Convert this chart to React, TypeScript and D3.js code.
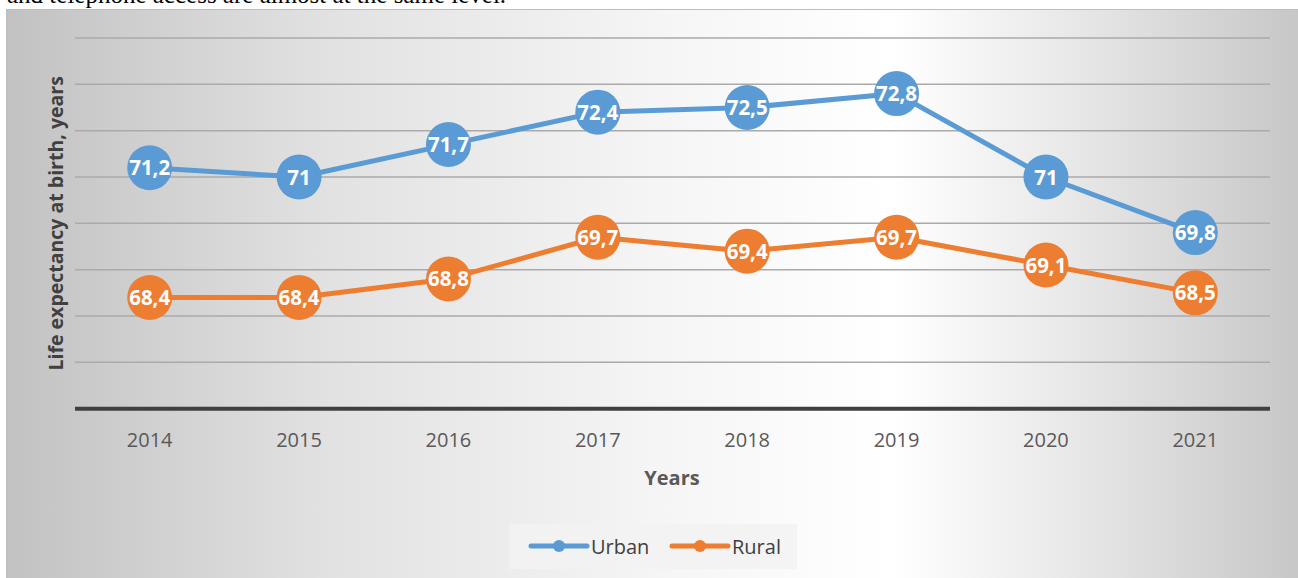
import React from "react";
import * as d3 from "d3";

const years = ["2014", "2015", "2016", "2017", "2018", "2019", "2020", "2021"];
const urban = [71.2, 71, 71.7, 72.4, 72.5, 72.8, 71, 69.8];
const rural = [68.4, 68.4, 68.8, 69.7, 69.4, 69.7, 69.1, 68.5];
const yTicks = [66, 67, 68, 69, 70, 71, 72, 73, 74];
const seriesNames = ["Urban", "Rural"];
const colors = ["#5b9bd5", "#ed7d31"];

const W = 1298;
const H = 578;
const FONT = "'Open Sans', 'DejaVu Sans', sans-serif";

export default function App() {
  const x = d3.scaleBand<string>().domain(years).range([75, 1270]);
  const y = d3.scaleLinear().domain([66, 74]).range([408.7, 38]);
  const cx = (d: string) => (x(d) as number) + x.bandwidth() / 2;
  const line = d3
    .line<number>()
    .x((_, i) => cx(years[i]))
    .y((v) => y(v));
  const fmt = (v: number) => String(v).replace(".", ",");
  const series = [urban, rural];

  return (
    <div style={{ position: "absolute", left: 0, top: 0 }}>
      <svg width={W} height={H} style={{ display: "block" }}>
        <defs>
          <linearGradient id="bg" x1="0" y1="0" x2="1" y2="0">
            <stop offset="0" stopColor="#c2c2c2" />
            <stop offset="0.25" stopColor="#e2e2e2" />
            <stop offset="0.5" stopColor="#f5f5f5" />
            <stop offset="0.68" stopColor="#ffffff" />
            <stop offset="0.82" stopColor="#e8e8e8" />
            <stop offset="1" stopColor="#c6c6c6" />
          </linearGradient>
        </defs>
        <text x={7} y={3} fontFamily="'Liberation Serif', 'Times New Roman', serif" fontSize={25} fill="#000">
          and telephone access are almost at the same level.
        </text>
        <rect x={6.5} y={9.5} width={1300} height={580} fill="url(#bg)" stroke="#bdbdbd" strokeWidth={1} />
        {yTicks.slice(1).map((t) => (
          <line key={t} x1={75} x2={1270} y1={y(t)} y2={y(t)} stroke="#aaaaaa" strokeWidth={1.5} />
        ))}
        <line x1={75} x2={1270} y1={y(66)} y2={y(66)} stroke="#404040" strokeWidth={4} />
        {years.map((d) => (
          <text key={d} x={cx(d)} y={447} textAnchor="middle" fontFamily={FONT} fontSize={20} fill="#595959">
            {d}
          </text>
        ))}
        <text x={672} y={485} textAnchor="middle" fontFamily={FONT} fontSize={20} fontWeight="bold" fill="#595959">
          Years
        </text>
        <text
          transform={`translate(63,${(y(66) + y(74)) / 2}) rotate(-90)`}
          textAnchor="middle"
          fontFamily={FONT}
          fontSize={19.5}
          fontWeight="bold"
          fill="#404040"
        >
          Life expectancy at birth, years
        </text>
        {series.map((s, si) => (
          <g key={si}>
            <path d={line(s) as string} fill="none" stroke={colors[si]} strokeWidth={5} strokeLinejoin="round" />
            {s.map((v, i) => (
              <g key={i}>
                <circle cx={cx(years[i])} cy={y(v)} r={22.5} fill={colors[si]} />
                <text
                  x={cx(years[i])}
                  y={y(v) + 7.5}
                  textAnchor="middle"
                  fontFamily={FONT}
                  fontSize={20.5}
                  fontWeight="bold"
                  fill="#ffffff"
                >
                  {fmt(v)}
                </text>
              </g>
            ))}
          </g>
        ))}
        <rect x={509} y={524} width={288} height={45} fill="#f2f2f2" fillOpacity={0.85} />
        {seriesNames.map((n, i) => {
          const x0 = i === 0 ? 531 : 672;
          return (
            <g key={n}>
              <line x1={x0} x2={x0 + 56} y1={546} y2={546} stroke={colors[i]} strokeWidth={5} strokeLinecap="round" />
              <circle cx={x0 + 28} cy={546} r={6} fill={colors[i]} />
              <text x={x0 + 60} y={554} fontFamily={FONT} fontSize={20} fill="#404040">
                {n}
              </text>
            </g>
          );
        })}
      </svg>
    </div>
  );
}
